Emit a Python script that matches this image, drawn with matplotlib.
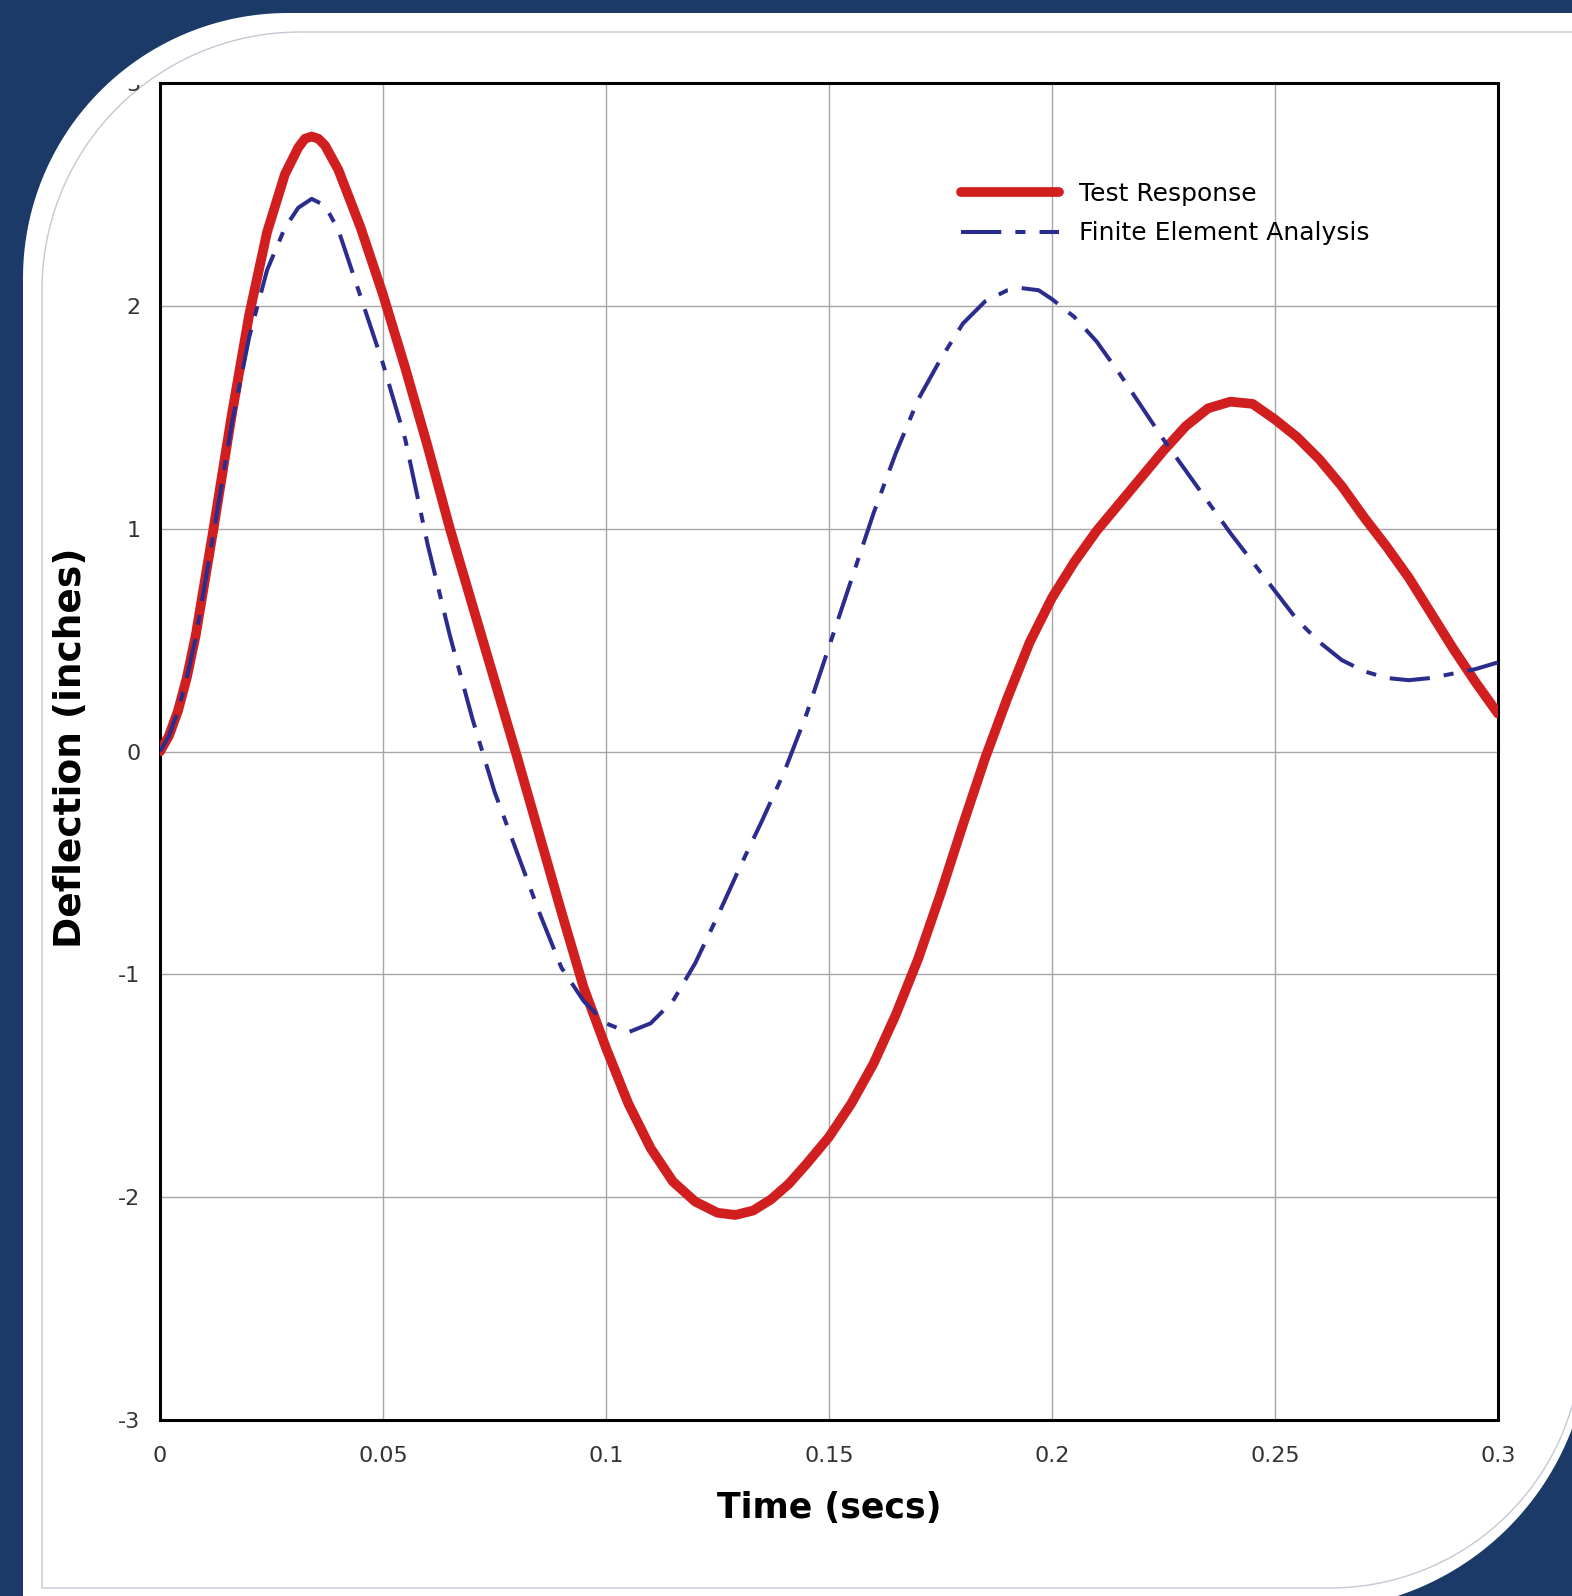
import numpy as np
import matplotlib
matplotlib.use("Agg")
import matplotlib.pyplot as plt
from matplotlib.path import Path
from matplotlib.patches import PathPatch
from matplotlib.transforms import Bbox

# values
t_test = [0.000, 0.002, 0.004, 0.006, 0.008, 0.012, 0.016, 0.020, 0.024, 0.028, 0.031, 0.0325,
          0.034, 0.0355, 0.037, 0.040, 0.045, 0.050, 0.055, 0.060, 0.065, 0.070,
          0.075, 0.080, 0.085, 0.090, 0.095, 0.100, 0.105, 0.110, 0.115, 0.120,
          0.125, 0.129, 0.133, 0.137, 0.141, 0.145, 0.150, 0.155, 0.160, 0.165,
          0.170, 0.175, 0.180, 0.185, 0.190, 0.195, 0.200, 0.205, 0.210, 0.215,
          0.220, 0.225, 0.230, 0.235, 0.240, 0.245, 0.250, 0.255, 0.260, 0.265,
          0.270, 0.275, 0.280, 0.285, 0.290, 0.295, 0.300]
y_test = [0.00, 0.07, 0.18, 0.33, 0.52, 1.00, 1.50, 1.96, 2.33, 2.59, 2.71, 2.75,
          2.76, 2.75, 2.72, 2.61, 2.35, 2.05, 1.72, 1.37, 1.00, 0.66,
          0.32, -0.02, -0.37, -0.72, -1.06, -1.33, -1.58, -1.78, -1.93, -2.02,
          -2.07, -2.08, -2.06, -2.01, -1.94, -1.85, -1.73, -1.58, -1.40, -1.18,
          -0.93, -0.64, -0.33, -0.03, 0.24, 0.49, 0.69, 0.85, 0.99, 1.11,
          1.23, 1.35, 1.46, 1.54, 1.57, 1.56, 1.49, 1.41, 1.31, 1.19,
          1.05, 0.92, 0.78, 0.62, 0.46, 0.31, 0.17]

t_fea = [0.000, 0.002, 0.004, 0.006, 0.008, 0.012, 0.016, 0.020, 0.024, 0.028, 0.031, 0.034,
         0.037, 0.040, 0.044, 0.047, 0.050, 0.055, 0.060, 0.065, 0.070, 0.075,
         0.080, 0.085, 0.090, 0.095, 0.100, 0.105, 0.110, 0.115, 0.120, 0.125,
         0.130, 0.135, 0.140, 0.145, 0.150, 0.155, 0.160, 0.165, 0.170, 0.175,
         0.180, 0.185, 0.190, 0.193, 0.197, 0.200, 0.205, 0.210, 0.215, 0.220,
         0.225, 0.230, 0.235, 0.240, 0.245, 0.250, 0.255, 0.260, 0.265, 0.270,
         0.275, 0.280, 0.285, 0.290, 0.295, 0.300]
y_fea = [0.00, 0.07, 0.18, 0.33, 0.51, 0.98, 1.46, 1.86, 2.16, 2.35, 2.44, 2.48,
         2.45, 2.34, 2.10, 1.92, 1.74, 1.40, 0.93, 0.52, 0.15, -0.18,
         -0.45, -0.72, -0.97, -1.12, -1.22, -1.26, -1.22, -1.12, -0.95, -0.74,
         -0.52, -0.31, -0.09, 0.17, 0.47, 0.77, 1.07, 1.34, 1.58, 1.76,
         1.92, 2.02, 2.07, 2.08, 2.07, 2.03, 1.95, 1.84, 1.70, 1.55,
         1.40, 1.26, 1.12, 0.98, 0.85, 0.72, 0.59, 0.49, 0.41, 0.36,
         0.33, 0.32, 0.33, 0.35, 0.37, 0.40]

x_ticks = [0, 0.05, 0.1, 0.15, 0.2, 0.25, 0.3]
x_labels = ['0', '0.05', '0.1', '0.15', '0.2', '0.25', '0.3']
y_ticks = [-3, -2, -1, 0, 1, 2, 3]
y_labels = ['-3', '-2', '-1', '0', '1', '2', '3']

W, H = 1572, 1596
navy = '#1b3a67'


def panel_path(left, top, right, bottom, r_tl, r_br):
    # rounded only at top-left and bottom-right, y grows downwards
    a = np.linspace(np.pi, 1.5 * np.pi, 60)
    tl = np.column_stack([left + r_tl + r_tl * np.cos(a), top + r_tl + r_tl * np.sin(a)])
    b = np.linspace(0, 0.5 * np.pi, 60)
    br = np.column_stack([right - r_br + r_br * np.cos(b), bottom - r_br + r_br * np.sin(b)])
    verts = np.vstack([tl, [[right, top]], br, [[left, bottom]], tl[:1]])
    return Path(verts, closed=True)


fig = plt.figure(figsize=(W / 100, H / 100), dpi=100, facecolor=navy)

bg = fig.add_axes([0, 0, 1, 1], zorder=-1)
bg.set_xlim(0, W)
bg.set_ylim(H, 0)
bg.axis('off')
bg.add_patch(PathPatch(panel_path(23, 13, 1590, 1610, 265, 280),
                       facecolor='white', edgecolor='none'))
bg.add_patch(PathPatch(panel_path(42, 32, 1582, 1588, 258, 252),
                       facecolor='none', edgecolor='#c3c9d3', lw=1))

ax = fig.add_axes([160 / W, 1 - 1420 / H, 1338 / W, 1337 / H])
ax.set_facecolor('white')

ax.plot(t_test, y_test, color='#d11f20', lw=7, solid_capstyle='round',
        solid_joinstyle='round', label='Test Response', zorder=3)
ax.plot(t_fea, y_fea, color='#2a2d8e', lw=2.9, dashes=(10, 3.5, 2.5, 3.5),
        label='Finite Element Analysis', zorder=4)

ax.set_xlim(0, 0.3)
ax.set_ylim(-3, 3)
ax.set_xticks(x_ticks)
ax.set_xticklabels(x_labels)
ax.set_yticks(y_ticks)
ax.set_yticklabels(y_labels)
ax.tick_params(length=0, labelsize=16, labelcolor='#333333')
ax.tick_params(axis='x', pad=19)
ax.tick_params(axis='y', pad=14)
ax.grid(True, color='#a6a6a6', lw=1.0)
ax.set_axisbelow(True)
for s in ax.spines.values():
    s.set_linewidth(2.2)
    s.set_color('black')

# top label is cut off by the panel's rounded corner
top_lab = ax.yaxis.get_major_ticks()[-1].label1
top_lab.set_clip_box(Bbox([[128, H - 96], [150, H - 85]]))
top_lab.set_clip_on(True)

ax.set_xlabel('Time (secs)', fontsize=25, fontweight='bold', va='center')
ax.xaxis.set_label_coords(0.5, -0.066)
ax.set_ylabel('Deflection (inches)', fontsize=27, fontweight='bold', va='center')
ax.yaxis.set_label_coords(-0.0665, 0.503)

ax.legend(loc='upper left', bbox_to_anchor=(0.599, 0.926), frameon=False,
          fontsize=18, handlelength=3.9, handletextpad=0.8, borderpad=0,
          borderaxespad=0, labelspacing=0.62)

fig.savefig('out.png', dpi=100, facecolor=navy)
